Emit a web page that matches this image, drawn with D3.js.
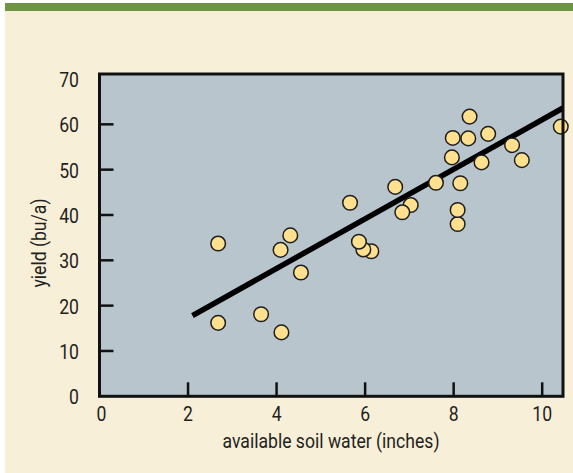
<!DOCTYPE html>
<html>
<head>
<meta charset="utf-8">
<script src="https://cdn.jsdelivr.net/npm/d3@7"></script>
<style>
  body { margin: 0; background: #fff; }
  text { font-family: "Roboto", sans-serif; fill: #231f20; }
</style>
</head>
<body>
<script>
// soil water (inches) vs yield (bu/a)
var water = [2.68, 2.68, 3.65, 4.11, 4.31, 4.09, 4.55, 5.66, 6.14, 5.96, 5.86,
             6.68, 7.03, 6.84, 7.60, 8.36, 7.98, 8.33, 8.78, 7.96, 9.32, 8.63,
             9.54, 10.42, 8.15, 8.09, 8.09];
var yieldBu = [33.7, 16.2, 18.1, 14.1, 35.5, 32.3, 27.3, 42.7, 32.0, 32.4, 34.1,
               46.2, 42.2, 40.6, 47.1, 61.7, 57.0, 56.9, 57.9, 52.7, 55.4, 51.6,
               52.1, 59.5, 47.0, 38.0, 41.1];

// fitted line end points
var fitX = [2.1, 10.47];
var fitY = [17.8, 63.6];

var xTicks = [0, 2, 4, 6, 8, 10];
var yTicks = [0, 10, 20, 30, 40, 50, 60, 70];

var W = 573, H = 473;

var x = d3.scaleLinear().domain([0, 10.47]).range([99.5, 563]);
var y = d3.scaleLinear().domain([0, 70]).range([396.3, 79]);

var svg = d3.select("body").append("svg")
  .attr("width", W)
  .attr("height", H);

// background + top bar
svg.append("rect").attr("x", 5).attr("y", 3).attr("width", W - 5).attr("height", H - 3).attr("fill", "#f8efd9");
svg.append("rect").attr("x", 5).attr("y", 3).attr("width", W - 5).attr("height", 8).attr("fill", "#6f9445");

// plot area
svg.append("rect")
  .attr("x", x(0)).attr("y", 74)
  .attr("width", x(10.47) - x(0)).attr("height", y(0) - 74)
  .attr("fill", "#b8c5cd");

// ticks (inside)
svg.append("g").selectAll("line").data(yTicks.slice(1, -1)).enter().append("line")
  .attr("x1", x(0)).attr("x2", x(0) + 14)
  .attr("y1", function(d) { return y(d); }).attr("y2", function(d) { return y(d); })
  .attr("stroke", "#111").attr("stroke-width", 2.5);

svg.append("g").selectAll("line").data(xTicks.slice(1)).enter().append("line")
  .attr("x1", function(d) { return x(d); }).attr("x2", function(d) { return x(d); })
  .attr("y1", y(0)).attr("y2", y(0) - 14)
  .attr("stroke", "#111").attr("stroke-width", 2.5);

// tick labels (narrow look)
svg.append("g").selectAll("text").data(yTicks).enter().append("text")
  .attr("transform", function(d) { return "translate(79," + (y(d) + 8) + ") scale(0.84,1)"; })
  .attr("text-anchor", "end")
  .attr("font-size", 21)
  .text(function(d) { return d; });

svg.append("g").selectAll("text").data(xTicks).enter().append("text")
  .attr("transform", function(d) { return "translate(" + (x(d) + (d == 0 ? 2 : 0)) + ",421) scale(0.84,1)"; })
  .attr("text-anchor", "middle")
  .attr("font-size", 21)
  .text(function(d) { return d; });

// axis titles
svg.append("text")
  .attr("transform", "translate(331,448) scale(0.88,1)")
  .attr("text-anchor", "middle")
  .attr("font-size", 20)
  .text("available soil water (inches)");

svg.append("text")
  .attr("transform", "translate(46,243) rotate(-90) scale(0.88,1)")
  .attr("text-anchor", "middle")
  .attr("font-size", 20)
  .text("yield (bu/a)");

// regression line
svg.append("line")
  .attr("x1", x(fitX[0])).attr("y1", y(fitY[0]))
  .attr("x2", x(fitX[1])).attr("y2", y(fitY[1]))
  .attr("stroke", "#000").attr("stroke-width", 5.5);

// points
svg.append("g").selectAll("circle").data(water).enter().append("circle")
  .attr("cx", function(d) { return x(d); })
  .attr("cy", function(d, i) { return y(yieldBu[i]); })
  .attr("r", 7.3)
  .attr("fill", "#ffe08e")
  .attr("stroke", "#1e1e1e")
  .attr("stroke-width", 1.5);

// frame
svg.append("rect")
  .attr("x", x(0)).attr("y", 74)
  .attr("width", x(10.47) - x(0)).attr("height", y(0) - 74)
  .attr("fill", "none")
  .attr("stroke", "#111").attr("stroke-width", 3);
</script>
</body>
</html>
